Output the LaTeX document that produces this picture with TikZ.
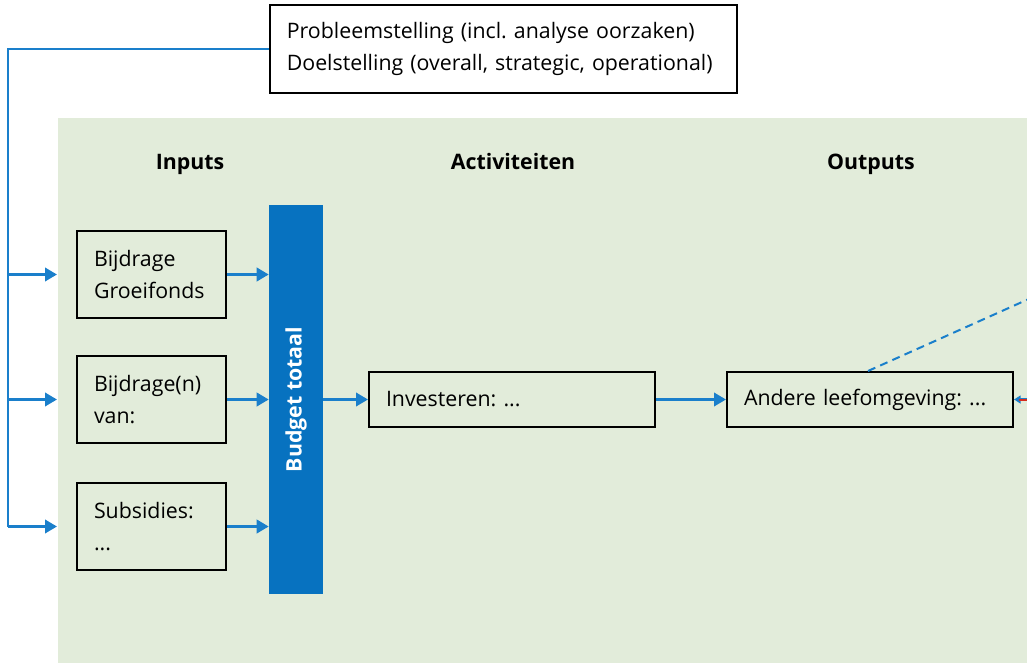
\documentclass[tikz,border=0pt]{standalone}
\usepackage{fontspec}
\setmainfont{Open Sans}
\usetikzlibrary{arrows.meta}
\frenchspacing

\definecolor{rijksblauw}{HTML}{0772C0}
\definecolor{lijnblauw}{HTML}{1A7FCB}
\definecolor{lichtgroen}{HTML}{E2ECDA}
\definecolor{rood}{HTML}{D52B1E}

\tikzset{
  kader/.style={draw=black, line width=1.5pt, inner xsep=12.75pt, inner ysep=0pt, align=left, font=\fontsize{16}{24}\selectfont},
  invoer/.style={kader, text width=86.25pt, minimum height=65.25pt},
  stap/.style={kader, text width=189pt, minimum height=41.25pt},
  kop/.style={anchor=base, font=\fontsize{16}{24}\selectfont\bfseries},
  balk/.style={fill=rijksblauw, text=white, minimum width=40.5pt, minimum height=291.75pt, inner sep=0pt, font=\fontsize{16}{18}\selectfont\bfseries},
  lijn/.style={draw=lijnblauw, line width=2pt},
  pijl/.style={lijn, -{Triangle[length=9pt,width=10pt]}},
}

\begin{document}
\begin{tikzpicture}[x=0.75pt,y=0.75pt,yscale=-1,xscale=1]
\useasboundingbox (0,0) rectangle (1027,663);
\clip (0,0) rectangle (1027,663);

% achtergrond
\fill[lichtgroen] (58,118) rectangle (1040,670);

% Text Node
\node[kader, fill=white, text width=325pt, minimum height=66pt, font=\fontsize{16}{24.75}\selectfont] (doel) at (503.5,49) {\raisebox{-3pt}{Probleemstelling (incl. analyse oorzaken)}\\\raisebox{-2pt}{Doelstelling (overall, strategic, operational)}};

% koppen
\node[kop] (kopin) at (190,170) {Inputs};
\node[kop] (kopact) at (513,170) {Activiteiten};
\node[kop] (kopuit) at (871,170) {Outputs};

% inputs
\node[invoer] (groeifonds) at (151.5,274.5) {Bijdrage\\Groeifonds};
\node[invoer] (bijdragen) at (151.5,399.5) {Bijdrage(n)\\van:};
\node[invoer] (subsidies) at (151.5,526.5) {Subsidies:\\...};

\node[balk] (budget) at (296,399.5) {\rotatebox{90}{Budget totaal}};

\node[stap] (investeren) at (512,399.5) {Investeren: ...};
\node[stap] (andere) at (870,399.5) {Andere leefomgeving: ...};

\coordinate (hoek) at (8,49);
\coordinate (rand) at (57,0);
\coordinate (schuin) at (1060,285);
\coordinate (rechts) at (1060,399.5);

% terugkoppeling
\draw[lijn] (doel.west) -- (hoek) -- (hoek |- subsidies);
\draw[pijl] (hoek |- groeifonds) -- (rand |- groeifonds);
\draw[pijl] (hoek |- bijdragen) -- (rand |- bijdragen);
\draw[pijl] (hoek |- subsidies) -- (rand |- subsidies);

\draw[pijl] (groeifonds.east) -- (budget.west |- groeifonds);
\draw[pijl] (bijdragen.east) -- (budget.west |- bijdragen);
\draw[pijl] (subsidies.east) -- (budget.west |- subsidies);

\draw[pijl] (budget.east) -- (investeren.west);
\draw[pijl] (investeren.east) -- (andere.west);

% naar rechts (afgesneden)
\draw[lijn, line width=1.5pt, dash pattern=on 6pt off 4pt] ([xshift=-1.5pt]andere.north) -- (schuin);
\draw[lijn, -{Triangle[length=5pt,width=6pt]}] (rechts) -- (andere.east);
\draw[rood, line width=1.5pt] ([xshift=4pt]andere.east) -- (rechts);
\end{tikzpicture}
\end{document}
